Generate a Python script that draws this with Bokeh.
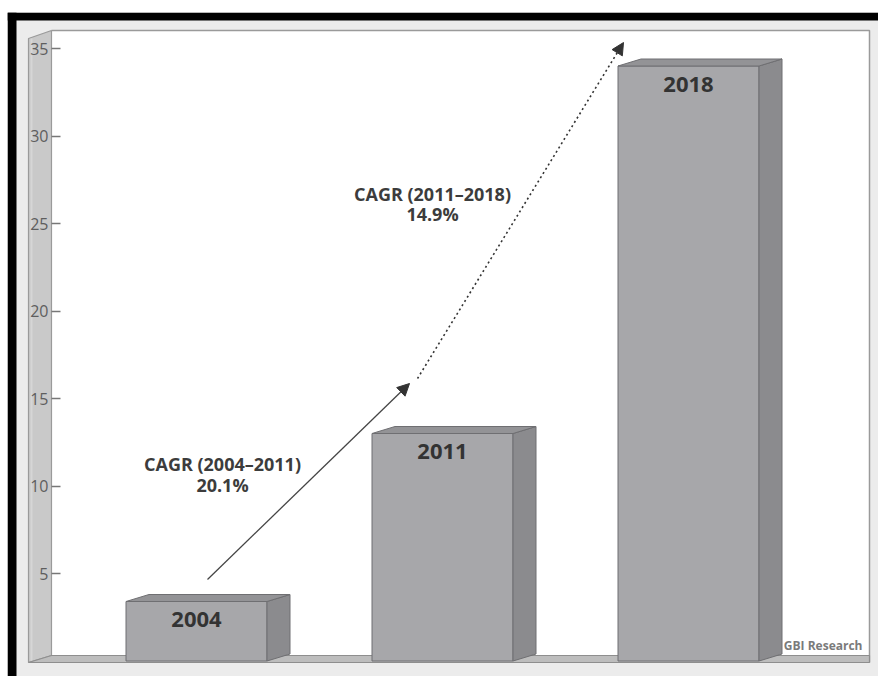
from bokeh.plotting import figure
from bokeh.models import Range1d, FixedTicker, Arrow, NormalHead
from bokeh.core.properties import value
from bokeh.embed import file_html
from bokeh.resources import INLINE

# ---- data ----
years = ["2004", "2011", "2018"]
market_values = [3.4, 13.0, 34.0]
bar_positions = [1, 2, 3]
y_ticks = [5, 10, 15, 20, 25, 30, 35]
cagr_periods = ["CAGR (2004\u20132011)", "CAGR (2011\u20132018)"]
cagr_rates = ["20.1%", "14.9%"]
source_note = "GBI Research"

# ---- layout helpers (image pixel -> data) ----
X0_PX, X_UNIT = 196.0, 246.0
Y0_PX, Y_UNIT = 660.5, 17.5


def dx(px):
    return 1 + (px - X0_PX) / X_UNIT


def dy(py):
    return (Y0_PX - py) / Y_UNIT


BAR_W = 141 / X_UNIT
DEPTH_X = 23 / X_UNIT
DEPTH_Y = 7 / Y_UNIT
FONT = "Open Sans"

p = figure(width=878, height=676, output_backend="svg", toolbar_location=None,
           x_range=Range1d(dx(7), dx(878)), y_range=Range1d(dy(676), dy(12)),
           x_axis_location=None, min_border_left=7, min_border_top=12,
           min_border_right=0, min_border_bottom=0)
p.border_fill_color = "white"
p.background_fill_color = "#ececec"
p.outline_line_color = None
p.grid.visible = False

# black frame bands (left and top)
p.quad(left=[dx(7), dx(7)], right=[dx(16), dx(878)], bottom=[dy(676), dy(20)],
       top=[dy(12), dy(12)], fill_color="black", line_color=None)

# white plotting panel
p.quad(left=[dx(51)], right=[dx(869)], bottom=[dy(655)], top=[dy(30)],
       fill_color="white", line_color=None)
p.line([dx(51), dx(869), dx(869)], [dy(30), dy(30), dy(662)],
       line_color="#9a9a9a", line_width=1.5)

# left wall
p.patch([dx(28), dx(51), dx(51), dx(28)], [dy(38), dy(30), dy(655), dy(662)],
        fill_color="#c9c9c9", line_color="#9a9a9a", line_width=1.2)
p.line([dx(31), dx(31)], [dy(38), dy(660)], line_color="#d6d6d6", line_width=2)

# floor
p.patch([dx(28), dx(51), dx(869), dx(869)], [dy(662), dy(655), dy(655), dy(662)],
        fill_color="#bdbdbd", line_color="#8e8e8e", line_width=1.2)

# bars (front, side, top)
lefts = [c - BAR_W / 2 for c in bar_positions]
rights = [c + BAR_W / 2 for c in bar_positions]
p.quad(left=lefts, right=rights, bottom=[0] * len(market_values), top=market_values,
       fill_color="#a7a7aa", line_color="#6f6f72", line_width=1)
side_xs = [[r, r + DEPTH_X, r + DEPTH_X, r] for r in rights]
side_ys = [[0, DEPTH_Y, v + DEPTH_Y, v] for v in market_values]
p.patches(side_xs, side_ys, fill_color="#8b8b8e", line_color="#6f6f72", line_width=1)
top_xs = [[l, l + DEPTH_X, r + DEPTH_X, r] for l, r in zip(lefts, rights)]
top_ys = [[v, v + DEPTH_Y, v + DEPTH_Y, v] for v in market_values]
p.patches(top_xs, top_ys, fill_color="#939396", line_color="#6f6f72", line_width=1)

p.text(x=bar_positions, y=market_values, text=years, y_offset=18,
       text_align="center", text_baseline="middle", text_font=value(FONT),
       text_font_size="22px", text_font_style="bold", text_color="#333333")

# CAGR annotations
cagr_x = [dx(222), dx(432)]
p.text(x=cagr_x, y=[dy(463), dy(193)], text=cagr_periods, text_align="center",
       text_baseline="middle", text_font=value(FONT), text_font_size="18px",
       text_font_style="bold", text_color="#3c3c3c")
p.text(x=cagr_x, y=[dy(484), dy(213)], text=cagr_rates, text_align="center",
       text_baseline="middle", text_font=value(FONT), text_font_size="18px",
       text_font_style="bold", text_color="#3c3c3c")

p.add_layout(Arrow(x_start=dx(207), y_start=dy(579), x_end=dx(409), y_end=dy(383),
                   line_color="#444444", line_width=1.3,
                   end=NormalHead(size=12, fill_color="#333333", line_color="#333333")))
p.add_layout(Arrow(x_start=dx(417), y_start=dy(378), x_end=dx(623), y_end=dy(42),
                   line_color="#333333", line_width=1.6, line_dash="2 3",
                   end=NormalHead(size=12, fill_color="#333333", line_color="#333333")))

p.text(x=[dx(862)], y=[dy(645)], text=[source_note], text_align="right",
       text_baseline="middle", text_font=value(FONT), text_font_size="12px",
       text_font_style="bold", text_color="#7a7a7a")

# y axis drawn inside the wall
ax = p.yaxis[0]
ax.fixed_location = dx(51)
ax.ticker = FixedTicker(ticks=y_ticks)
ax.minor_tick_line_color = None
ax.major_tick_in = 9
ax.major_tick_out = 0
ax.major_tick_line_color = "#777777"
ax.major_tick_line_width = 1.5
ax.axis_line_color = None
ax.major_label_standoff = 3
ax.major_label_text_font = FONT
ax.major_label_text_font_size = "16px"
ax.major_label_text_color = "#5e5e5e"

open("out.html", "w").write(file_html(p, INLINE))
